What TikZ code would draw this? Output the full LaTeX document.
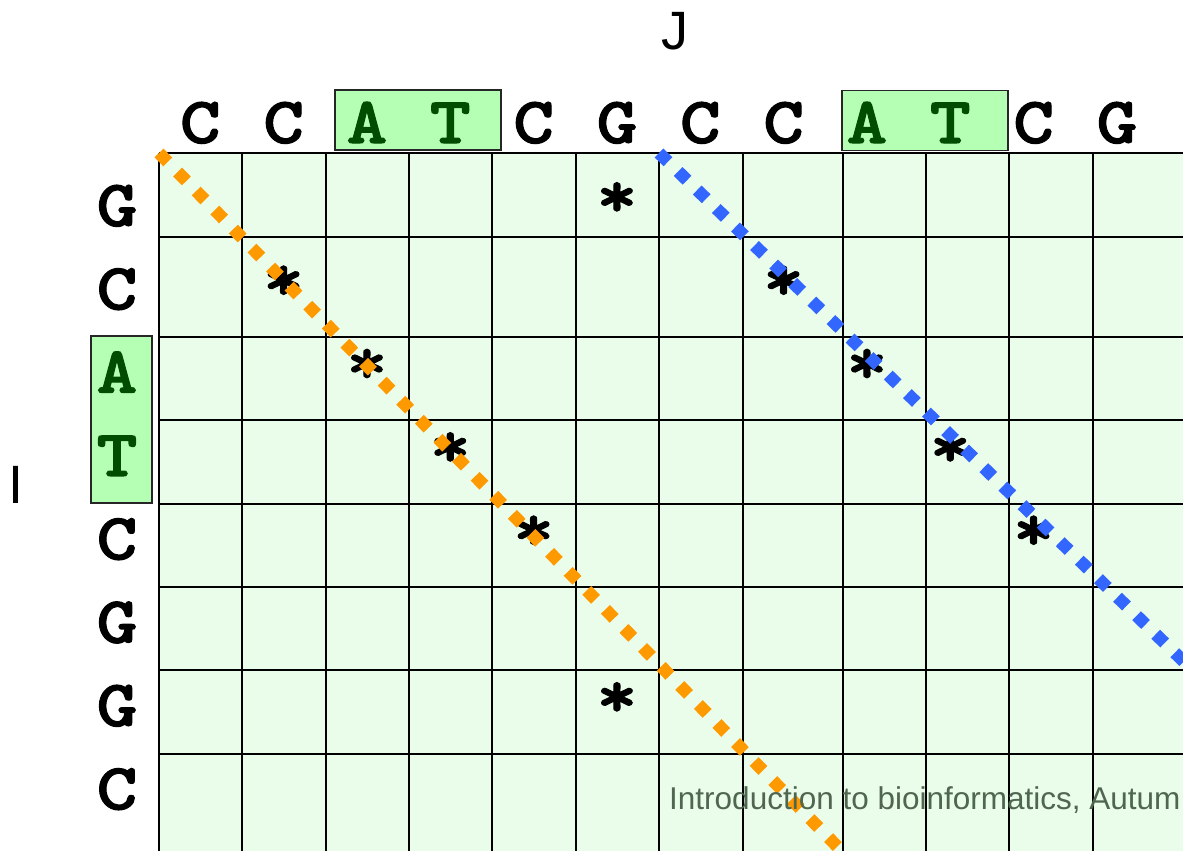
\documentclass[tikz,border=0pt]{standalone}
\usepackage{fontspec}
\newfontfamily\seqfont{lmmonolt10-bold.otf}[FakeStretch=1.18,FakeBold=1.6]
\newfontfamily\labfont{Liberation Sans}
\definecolor{gridfill}{HTML}{EAFDEA}
\definecolor{hlfill}{HTML}{B5FFB5}
\definecolor{hlletter}{HTML}{004D00}
\definecolor{dotorange}{HTML}{FF9900}
\definecolor{dotblue}{HTML}{3366FF}
\definecolor{foot}{HTML}{4F664F}
\tikzset{
  seqletter/.style={anchor=base, inner sep=0pt, font=\seqfont\fontsize{66}{80}\selectfont},
  hlletterstyle/.style={seqletter, text=hlletter},
  hlbox/.style={draw=black!85, line width=1.8pt, fill=hlfill, inner sep=0pt},
  star/.style={anchor=base, inner sep=0pt, font=\seqfont\fontsize{66}{80}\selectfont},
  axislabel/.style={anchor=base, inner sep=0pt, font=\labfont\fontsize{54}{60}\selectfont},
  gridline/.style={line width=2pt, black},
  dotline/.style={line width=12.5pt, dash pattern=on 12.5pt off 14.1pt},
}
\begin{document}
\begin{tikzpicture}[x=1pt,y=-1pt]
\clip (0,0) rectangle (1183,851);
\fill[white] (0,0) rectangle (1183,851);
% grid
\fill[gridfill] (159,153) rectangle (1183,851);
\foreach \gx in {159,242,326,409,492,576,659,743,843,926,1009,1093}
  \draw[gridline] (\gx,153) -- (\gx,851);
\foreach \gy in {153,237,337,420,504,587,670,754}
  \draw[gridline] (159,\gy) -- (1183,\gy);
% highlight boxes
\node[hlbox, minimum width=166pt, minimum height=60pt] (hb1) at (418.3,120.3) {};
\node[hlbox, minimum width=166.4pt, minimum height=60pt] (hb2) at (924.8,120.5) {};
\node[hlbox, minimum width=60.7pt, minimum height=167.3pt] (hb3) at (121.7,419.7) {};
% top sequence
\foreach \ch [count=\k from 0] in {C,C,A,T,C,G,C,C,A,T,C,G} {
  \pgfmathsetmacro{\xx}{200.3+83.33*\k}
  \ifnum\pdfstrcmp{\ch}{A}=0 \def\sty{hlletterstyle}\else
  \ifnum\pdfstrcmp{\ch}{T}=0 \def\sty{hlletterstyle}\else \def\sty{seqletter}\fi\fi
  \node[\sty] (top\k) at (\xx,143) {\ch};
}
% left sequence
\foreach \ch [count=\k from 0] in {G,C,A,T,C,G,G,C} {
  \pgfmathsetmacro{\yy}{226+83.33*\k}
  \ifnum\pdfstrcmp{\ch}{A}=0 \def\sty{hlletterstyle}\else
  \ifnum\pdfstrcmp{\ch}{T}=0 \def\sty{hlletterstyle}\else \def\sty{seqletter}\fi\fi
  \node[\sty] (left\k) at (117,\yy) {\ch};
}
% matches
\foreach \k/\r [count=\n] in {5/0,1/1,2/2,3/3,4/4,5/6,7/1,8/2,9/3,10/4} {
  \pgfmathsetmacro{\xx}{200.3+83.33*\k}
  \pgfmathsetmacro{\yy}{197+83.33*\r+20}
  \node[star] (m\n) at (\xx,\yy) {*};
}
% diagonals
\coordinate (oa) at (159,153);
\coordinate (ob) at (850,859.5);
\coordinate (ba) at (659,153);
\coordinate (bb) at (1190,667.5);
\draw[dotline, dotorange] (oa) -- (ob);
\draw[dotline, dotblue] (ba) -- (bb);
% labels
\node[axislabel] (J) at (675,49.5) {J};
\node[axislabel] (I) at (16,503) {I};
\node[anchor=base west, inner sep=0pt, text=foot, font=\labfont\fontsize{31.5}{38}\selectfont] (footer) at (669,809) {Introduction to bioinformatics, Autum};
\end{tikzpicture}
\end{document}
